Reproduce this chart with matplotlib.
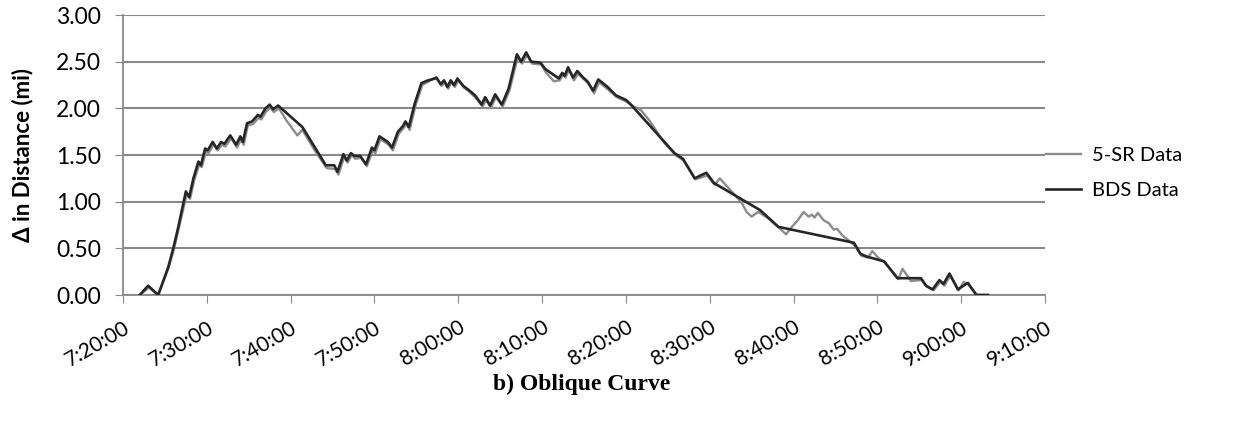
"""
Oblique curve: difference in distance, 5-SR data vs BDS data
"""

import datetime as dt
import matplotlib
matplotlib.use('Agg')
import matplotlib.pyplot as plt
import matplotlib.dates as mdates
from matplotlib.ticker import FuncFormatter

# BDS Data
bds_times = [
    '7:22:00', '7:23:00', '7:24:12', '7:25:24', '7:26:00', '7:26:36', '7:27:30',
    '7:27:54', '7:28:24', '7:29:00', '7:29:18', '7:29:48', '7:30:06', '7:30:42',
    '7:31:12', '7:31:42', '7:32:06', '7:32:48', '7:33:30', '7:34:00', '7:34:18',
    '7:34:48', '7:35:24', '7:36:06', '7:36:24', '7:37:00', '7:37:30', '7:37:54',
    '7:38:30', '7:41:24', '7:44:12', '7:45:12', '7:45:36', '7:46:18', '7:46:42',
    '7:47:12', '7:47:36', '7:48:18', '7:49:00', '7:49:42', '7:50:00', '7:50:36',
    '7:51:36', '7:52:06', '7:52:48', '7:53:24', '7:53:42', '7:54:06', '7:54:48',
    '7:55:36', '7:56:24', '7:56:54', '7:57:24', '7:57:54', '7:58:18', '7:58:42',
    '7:59:06', '7:59:30', '7:59:54', '8:00:36', '8:01:12', '8:02:00', '8:02:48',
    '8:03:12', '8:03:48', '8:04:24', '8:05:12', '8:06:00', '8:07:00', '8:07:30',
    '8:08:06', '8:08:42', '8:09:48', '8:10:24', '8:12:00', '8:12:24', '8:12:42',
    '8:13:06', '8:13:42', '8:14:12', '8:14:54', '8:15:24', '8:16:06', '8:16:42',
    '8:17:48', '8:18:48', '8:20:00', '8:20:36', '8:24:24', '8:25:48', '8:26:48',
    '8:28:12', '8:29:36', '8:30:30', '8:36:00', '8:38:12', '8:47:12', '8:48:00',
    '8:48:48', '8:50:48', '8:52:24', '8:55:12', '8:55:48', '8:56:36', '8:57:24',
    '8:57:54', '8:58:36', '8:59:36', '9:00:48', '9:01:48', '9:03:12',
]
bds_values = [
    0.00, 0.10, 0.00, 0.30, 0.50, 0.73, 1.11,
    1.05, 1.25, 1.43, 1.39, 1.57, 1.55, 1.64,
    1.57, 1.64, 1.62, 1.71, 1.61, 1.70, 1.64,
    1.84, 1.86, 1.93, 1.91, 2.00, 2.04, 1.99,
    2.03, 1.80, 1.39, 1.39, 1.32, 1.51, 1.44,
    1.52, 1.49, 1.49, 1.40, 1.58, 1.55, 1.70,
    1.64, 1.58, 1.75, 1.81, 1.86, 1.80, 2.05,
    2.27, 2.30, 2.31, 2.33, 2.26, 2.30, 2.23,
    2.30, 2.25, 2.32, 2.24, 2.20, 2.14, 2.04,
    2.12, 2.03, 2.15, 2.04, 2.21, 2.58, 2.50,
    2.60, 2.50, 2.49, 2.42, 2.32, 2.38, 2.35,
    2.44, 2.33, 2.40, 2.33, 2.29, 2.19, 2.31,
    2.23, 2.14, 2.09, 2.04, 1.66, 1.52, 1.46,
    1.25, 1.31, 1.20, 0.91, 0.73, 0.56, 0.44,
    0.41, 0.36, 0.18, 0.18, 0.10, 0.06, 0.16,
    0.12, 0.23, 0.06, 0.13, 0.00, 0.00,
]

# 5-SR Data
sr_times = [
    '7:22:00', '7:23:06', '7:24:12', '7:25:24', '7:26:06', '7:26:42', '7:27:36',
    '7:28:00', '7:28:30', '7:29:06', '7:29:24', '7:29:54', '7:30:12', '7:30:48',
    '7:31:18', '7:31:48', '7:32:12', '7:32:54', '7:33:36', '7:34:06', '7:34:24',
    '7:34:54', '7:35:30', '7:36:12', '7:36:30', '7:37:06', '7:37:36', '7:38:00',
    '7:38:36', '7:39:30', '7:40:48', '7:41:24', '7:42:48', '7:44:18', '7:45:18',
    '7:45:42', '7:46:24', '7:46:48', '7:47:18', '7:47:42', '7:48:24', '7:49:06',
    '7:49:48', '7:50:06', '7:50:42', '7:51:42', '7:52:12', '7:52:54', '7:53:30',
    '7:53:48', '7:54:12', '7:54:54', '7:55:42', '7:56:30', '7:57:00', '7:57:30',
    '7:58:00', '7:58:24', '7:58:48', '7:59:12', '7:59:36', '8:00:00', '8:00:42',
    '8:01:18', '8:02:06', '8:02:54', '8:03:18', '8:03:54', '8:04:30', '8:05:18',
    '8:06:06', '8:07:06', '8:07:36', '8:08:12', '8:08:48', '8:09:54', '8:10:30',
    '8:11:24', '8:12:06', '8:12:30', '8:12:48', '8:13:12', '8:13:48', '8:14:18',
    '8:15:00', '8:15:30', '8:16:12', '8:16:48', '8:17:54', '8:18:54', '8:20:06',
    '8:20:42', '8:21:48', '8:22:48', '8:24:30', '8:25:54', '8:26:54', '8:28:18',
    '8:29:42', '8:30:36', '8:31:12', '8:32:06', '8:33:00', '8:33:48', '8:34:24',
    '8:35:00', '8:35:48', '8:37:00', '8:38:24', '8:39:06', '8:39:48', '8:40:30',
    '8:41:12', '8:41:48', '8:42:12', '8:42:30', '8:42:54', '8:43:36', '8:44:12',
    '8:44:48', '8:45:12', '8:45:48', '8:46:30', '8:47:18', '8:48:06', '8:48:54',
    '8:49:24', '8:50:12', '8:50:54', '8:52:30', '8:53:00', '8:54:00', '8:55:18',
    '8:55:54', '8:56:42', '8:57:30', '8:58:00', '8:58:42', '8:59:42', '9:00:18',
    '9:00:54', '9:01:54', '9:03:12',
]
sr_values = [
    0.00, 0.08, 0.00, 0.28, 0.50, 0.73, 1.08,
    1.03, 1.23, 1.40, 1.37, 1.54, 1.52, 1.61,
    1.55, 1.61, 1.59, 1.68, 1.58, 1.67, 1.61,
    1.82, 1.83, 1.90, 1.88, 1.97, 2.01, 1.96,
    2.00, 1.87, 1.71, 1.77, 1.56, 1.36, 1.35,
    1.29, 1.48, 1.42, 1.50, 1.46, 1.47, 1.38,
    1.55, 1.52, 1.67, 1.61, 1.55, 1.73, 1.79,
    1.84, 1.77, 2.03, 2.25, 2.29, 2.32, 2.31,
    2.24, 2.28, 2.21, 2.28, 2.23, 2.30, 2.22,
    2.18, 2.11, 2.02, 2.09, 2.01, 2.12, 2.02,
    2.19, 2.55, 2.48, 2.57, 2.48, 2.47, 2.38,
    2.29, 2.30, 2.36, 2.33, 2.41, 2.30, 2.37,
    2.31, 2.27, 2.16, 2.28, 2.20, 2.12, 2.07,
    2.03, 1.98, 1.87, 1.64, 1.50, 1.44, 1.24,
    1.28, 1.18, 1.25, 1.16, 1.07, 0.99, 0.89,
    0.84, 0.89, 0.82, 0.71, 0.65, 0.73, 0.80,
    0.89, 0.84, 0.86, 0.83, 0.88, 0.80, 0.77,
    0.70, 0.71, 0.64, 0.59, 0.53, 0.42, 0.40,
    0.47, 0.39, 0.35, 0.17, 0.28, 0.15, 0.16,
    0.09, 0.05, 0.14, 0.10, 0.21, 0.05, 0.14,
    0.11, 0.00, 0.00,
]

y_ticks = [0.0, 0.5, 1.0, 1.5, 2.0, 2.5, 3.0]
x_start, x_end = '7:20:00', '9:10:00'

DAY = dt.date(2012, 1, 1)


def to_dt(s: str) -> dt.datetime:
    h, m, sec = (int(p) for p in s.split(':'))
    return dt.datetime.combine(DAY, dt.time(h, m, sec))


def fmt_time(x, pos):
    d = mdates.num2date(x)
    return f'{d.hour}:{d.minute:02d}:{d.second:02d}'


plt.rcParams['font.family'] = ['Lato', 'DejaVu Sans']

fig = plt.figure(figsize=(12.5, 4.23), dpi=100)
ax = fig.add_axes([0.0984, 0.3026, 0.7376, 0.6619])

grid_col = '#898989'
ax.plot([to_dt(t) for t in sr_times], sr_values, color='#8c8c8c', lw=1.7,
        label='5-SR Data', zorder=3)
ax.plot([to_dt(t) for t in bds_times], bds_values, color='#262626', lw=1.9,
        label='BDS Data', zorder=4)

ax.set_xlim(to_dt(x_start), to_dt(x_end))
ax.set_ylim(0, 3.0)
ax.set_yticks(y_ticks)
ax.yaxis.set_major_formatter(FuncFormatter(lambda v, p: f'{v:.2f}'))
ax.xaxis.set_major_locator(mdates.MinuteLocator(byminute=range(0, 60, 10)))
ax.xaxis.set_major_formatter(FuncFormatter(fmt_time))

ax.grid(axis='y', color=grid_col, lw=1.5)
ax.set_axisbelow(True)
for side in ('top', 'right'):
    ax.spines[side].set_visible(False)
for side in ('left', 'bottom'):
    ax.spines[side].set_color(grid_col)
    ax.spines[side].set_linewidth(1.3)

ax.tick_params(axis='y', length=6, color=grid_col, labelsize=16.5, pad=10)
ax.tick_params(axis='x', length=6, color=grid_col, labelsize=15, pad=10)
for lbl in ax.get_xticklabels():
    lbl.set_rotation(30)
    lbl.set_ha('right')
    lbl.set_rotation_mode('anchor')

ax.set_ylabel('Δ in Distance (mi)', fontsize=16, fontweight='bold')
ax.yaxis.set_label_coords(-0.097, 0.5)

fig.legend(loc='center left', bbox_to_anchor=(0.837, 1 - 173 / 423),
           frameon=False, fontsize=14.5, handlelength=1.75, labelspacing=0.85,
           handletextpad=0.5, borderpad=0, borderaxespad=0)

fig.text(0.465, 1 - 384 / 423, 'b) Oblique Curve', ha='center', va='center',
         fontsize=17, fontweight='bold', family=['Liberation Serif'])

fig.savefig('out.png', dpi=100)
